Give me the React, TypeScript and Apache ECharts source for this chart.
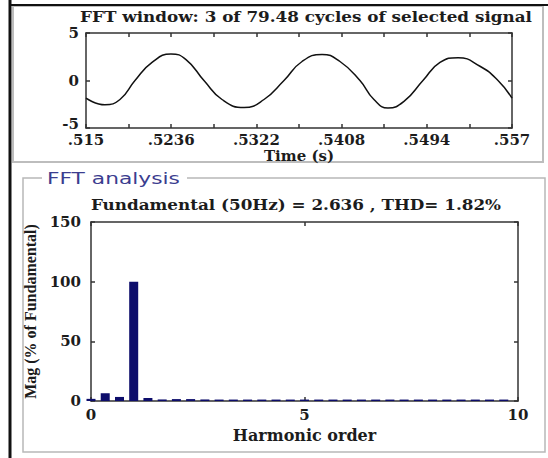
import React, { useEffect, useRef } from "react";
import * as echarts from "echarts";

// ---- data ----
const timeValues = [
  0.515, 0.51687, 0.51835, 0.51983, 0.52151, 0.52338, 0.52486, 0.52663, 0.52841,
  0.53058, 0.53255, 0.53452, 0.5363, 0.53827, 0.54004, 0.54201, 0.54339, 0.54477,
  0.54635, 0.54822, 0.5499, 0.55168, 0.55384, 0.55562, 0.557,
];
const signalValues = [
  -1.86, -2.55, -2.0, 0.0, 1.9, 2.8, 2.2, 0.0, -2.0, -2.85, -2.0, 0.0, 2.0, 2.75,
  2.0, 0.0, -2.0, -2.9, -2.2, 0.0, 1.9, 2.4, 1.5, 0.0, -1.86,
];
const timeTickLabels = [".515", ".5236", ".5322", ".5408", ".5494", ".557"];
const timeMin = 0.515;
const timeMax = 0.557;

const harmonicOrders = [
  0, 0.333, 0.667, 1, 1.333, 1.667, 2, 2.333, 2.667, 3, 3.333, 3.667, 4, 4.333,
  4.667, 5, 5.333, 5.667, 6, 6.333, 6.667, 7, 7.333, 7.667, 8, 8.333, 8.667, 9,
  9.333, 9.667,
];
const magnitudes = [
  1.8, 6.5, 3.4, 100, 2.5, 1.3, 1.6, 1.6, 1.3, 1.2, 1.2, 1.2, 1.2, 1.2, 1.2, 1.2,
  1.2, 1.2, 1.2, 1.2, 1.2, 1.2, 1.2, 1.2, 1.2, 1.2, 1.2, 1.2, 1.2, 1.2,
];
const magTicks = [0, 50, 100, 150];
const harmonicTicks = [0, 5, 10];

const SERIF = '"DejaVu Serif", "Liberation Serif", serif';
const NARROW_SERIF = '"Liberation Serif", "Times New Roman", serif';
const TXT = "#1c1c1c";
const AXIS = "#333333";

export default function App() {
  const ref = useRef<HTMLDivElement>(null);
  useEffect(() => {
    if (!ref.current) return;
    const chart = echarts.init(ref.current, undefined, { renderer: "svg" });

    const span = timeMax - timeMin;
    const tickPositions: number[] = [];
    for (let k = 0; k <= 10; k++) tickPositions.push(timeMin + (span * k) / 10);
    const labelPositions: number[] = [];
    for (let k = 0; k < timeTickLabels.length; k++)
      labelPositions.push(timeMin + (span * k) / (timeTickLabels.length - 1));

    const lbl = {
      fontFamily: SERIF,
      fontWeight: "bold" as const,
      fontSize: 15,
      lineHeight: 10,
      color: TXT,
    };
    const line = { show: true, onZero: false, lineStyle: { color: AXIS, width: 1.5 } };
    const tick = { show: true, inside: true, length: 4, lineStyle: { color: AXIS, width: 1.5 } };

    chart.setOption({
      animation: false,
      backgroundColor: "#ffffff",
      grid: [
        { left: 86, top: 33, width: 426, height: 95 },
        { left: 91, top: 222, width: 427, height: 179 },
      ],
      xAxis: [
        {
          gridIndex: 0,
          type: "value",
          min: timeMin,
          max: timeMax,
          position: "bottom",
          axisLine: line,
          axisTick: { ...tick, customValues: tickPositions },
          axisLabel: {
            ...lbl,
            margin: 7,
            customValues: labelPositions,
            formatter: (v: number) =>
              timeTickLabels[Math.round(((v - timeMin) / span) * (timeTickLabels.length - 1))],
          },
          splitLine: { show: false },
          name: "Time (s)",
          nameLocation: "middle",
          nameGap: 19,
          nameTextStyle: { ...lbl },
        },
        {
          gridIndex: 0,
          type: "value",
          min: timeMin,
          max: timeMax,
          position: "top",
          axisLine: line,
          axisTick: { ...tick, customValues: tickPositions },
          axisLabel: { show: false },
          splitLine: { show: false },
        },
        {
          gridIndex: 1,
          type: "value",
          min: harmonicTicks[0],
          max: harmonicTicks[harmonicTicks.length - 1],
          interval: 5,
          position: "bottom",
          axisLine: line,
          axisTick: tick,
          axisLabel: { ...lbl, margin: 9 },
          splitLine: { show: false },
          name: "Harmonic order",
          nameLocation: "middle",
          nameGap: 27,
          nameTextStyle: { ...lbl, fontSize: 16, lineHeight: 14 },
        },
        {
          gridIndex: 1,
          type: "value",
          min: 0,
          max: 10,
          interval: 5,
          position: "top",
          axisLine: line,
          axisTick: tick,
          axisLabel: { show: false },
          splitLine: { show: false },
        },
      ],
      yAxis: [
        {
          gridIndex: 0,
          type: "value",
          min: -5,
          max: 5,
          interval: 5,
          position: "left",
          axisLine: line,
          axisTick: tick,
          axisLabel: {
            ...lbl,
            margin: 7,
            formatter: (v: number) => (v === -5 ? "{lo|-5}" : String(v)),
            rich: {
              lo: {
                fontFamily: SERIF,
                fontWeight: "bold",
                fontSize: 15,
                lineHeight: 10,
                color: TXT,
                padding: [0, 0, 8, 0],
              },
            },
          },
          splitLine: { show: false },
        },
        {
          gridIndex: 0,
          type: "value",
          min: -5,
          max: 5,
          interval: 5,
          position: "right",
          axisLine: line,
          axisTick: tick,
          axisLabel: { show: false },
          splitLine: { show: false },
        },
        {
          gridIndex: 1,
          type: "value",
          min: magTicks[0],
          max: magTicks[magTicks.length - 1],
          interval: 50,
          position: "left",
          axisLine: line,
          axisTick: tick,
          axisLabel: { ...lbl, margin: 10 },
          splitLine: { show: false },
          name: "Mag (% of Fundamental)",
          nameLocation: "middle",
          nameRotate: 90,
          nameGap: 50,
          nameTextStyle: {
            fontFamily: NARROW_SERIF,
            fontWeight: "bold",
            fontSize: 16,
            color: TXT,
          },
        },
        {
          gridIndex: 1,
          type: "value",
          min: 0,
          max: 150,
          interval: 50,
          position: "right",
          axisLine: line,
          axisTick: tick,
          axisLabel: { show: false },
          splitLine: { show: false },
        },
      ],
      series: [
        {
          type: "line",
          xAxisIndex: 0,
          yAxisIndex: 0,
          data: timeValues.map((t, i) => [t, signalValues[i]]),
          smooth: true,
          symbol: "none",
          lineStyle: { color: "#111111", width: 1.5 },
        },
        {
          type: "bar",
          xAxisIndex: 2,
          yAxisIndex: 2,
          data: harmonicOrders.map((h, i) => [h, magnitudes[i]]),
          barWidth: 9,
          clip: false,
          itemStyle: { color: "#0d0d6b" },
        },
      ],
      graphic: [
        {
          type: "rect",
          shape: { x: 13, y: 6, width: 530, height: 156 },
          style: { fill: "none", stroke: "#bdbdbd", lineWidth: 2 },
        },
        {
          type: "polyline",
          shape: { points: [[42, 178], [23, 178], [23, 452], [545, 452], [545, 178], [187, 178]] },
          style: { fill: "none", stroke: "#b8b8b8", lineWidth: 1.5 },
        },
        {
          type: "line",
          shape: { x1: 10, y1: 0, x2: 10, y2: 458 },
          style: { stroke: "#111111", lineWidth: 3 },
        },
        {
          type: "line",
          shape: { x1: 10, y1: 5, x2: 548, y2: 5 },
          style: { stroke: "#111111", lineWidth: 2 },
        },
        {
          type: "text",
          x: 47,
          y: 179,
          scaleX: 1.36,
          style: {
            text: "FFT analysis",
            font: '16px "DejaVu Sans", "Liberation Sans", sans-serif',
            fill: "#3b3d8f",
            verticalAlign: "middle",
            align: "left",
          },
        },
        {
          type: "text",
          x: 306,
          y: 17,
          scaleX: 1.12,
          style: {
            text: "FFT window: 3 of 79.48 cycles of selected signal",
            font: "bold 15px " + SERIF,
            fill: TXT,
            align: "center",
            verticalAlign: "middle",
          },
        },
        {
          type: "text",
          x: 296,
          y: 205,
          scaleX: 1.12,
          style: {
            text: "Fundamental (50Hz) = 2.636 , THD= 1.82%",
            font: "bold 15px " + SERIF,
            fill: TXT,
            align: "center",
            verticalAlign: "middle",
          },
        },
      ],
    });
    return () => chart.dispose();
  }, []);
  return <div ref={ref} style={{ width: 548, height: 458, position: "absolute", left: 0, top: 0 }} />;
}
